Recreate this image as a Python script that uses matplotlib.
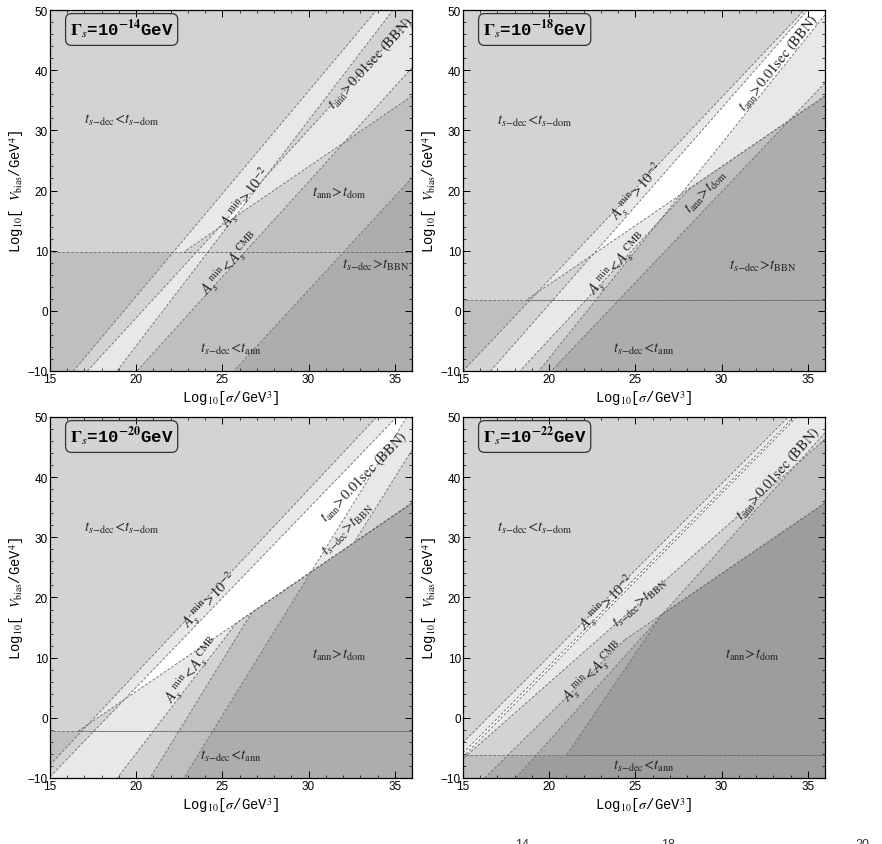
import numpy as np
import matplotlib.pyplot as plt

plt.rcParams['mathtext.fontset'] = 'stix'
plt.rcParams['font.family'] = ['Liberation Sans', 'DejaVu Sans']

XLIM = (15, 36)
YLIM = (-10, 50)

# decay rates of the four panels, log10(Gamma_s / GeV)
gamma_exp = [-14, -18, -20, -22]
# horizontal boundary (t_s-dec = t_ann) in each panel
h_level = [9.8, 1.8, -2.2, -6.2]
# slope-2 boundary t_ann = t_dom, same in every panel
t_dom = (15.0, -5.4, 36.0, 35.7)

# boundaries, (x0, y0, x1, y1) in data units
lines_1 = {'Pa': (16.36, -10, 33.95, 50), 'Pb': (17.17, -10, 36.0, 48.8),
           'Pc': (18.88, -10, 34.9, 50), 'Alo': (20.04, -10, 36.0, 40.4),
           'S': (25.67, -10, 36.0, 22.1)}
lines_2 = {'Pa': (15.0, -10, 34.8, 50), 'Pb': (16.6, -10, 35.0, 50),
           'Pc': (19.4, -10, 36.0, 49.2), 'Alo': (18.3, -10, 36.0, 44.5),
           'S': (20.13, -10, 36.0, 37.9)}
lines_3 = {'Pa': (14.29, -10, 33.95, 50), 'Pb': (14.93, -10, 35.11, 50),
           'Pc': (22.76, -10, 35.7, 50), 'Alo': (18.9, -10, 35.0, 50),
           'S': (20.8, -10, 26.6, 17.0), 'S2': (24.07, -10, 36.0, 44.5)}
lines_4 = {'U': (15.0, -4.1, 33.87, 50), 'D1': (15.3, -5.0, 34.2, 50),
           'D2': (15.4, -5.3, 34.35, 50), 'Lb': (15.0, -6.8, 36.0, 46.3),
           'Alo': (16.26, -10, 36.0, 45.8), 'S': (20.1, -10, 26.5, 17.0),
           'E': (26.5, 17.0, 36.0, 47.4)}

# excluded regions: each is an intersection of half planes (a = above, b = below)
regions_1 = [[('Pa', 'a')], [('Pb', 'a')], [('Pc', 'b')], [('Alo', 'b')],
             [('S', 'b')], [('T', 'b'), ('H', 'a')], [('H', 'b')]]
regions_2 = [[('Pa', 'a')], [('Pb', 'a')], [('Pc', 'b')], [('Alo', 'b'), ('T', 'b')],
             [('S', 'b')], [('T', 'b'), ('H', 'a')], [('H', 'b')]]
regions_3 = [[('Pa', 'a')], [('Pb', 'a')], [('Pc', 'b')], [('Alo', 'b'), ('T', 'b')],
             [('S', 'b'), ('T', 'b')], [('S2', 'b'), ('T', 'a')],
             [('T', 'b'), ('H', 'a')], [('H', 'b')]]
regions_4 = [[('U', 'a')], [('D1', 'a')], [('D2', 'b')], [('Lb', 'b')],
             [('Alo', 'b'), ('T', 'b')], [('S', 'b'), ('T', 'b'), ('H', 'a')],
             [('E', 'b')], [('H', 'b')]]

lab_dec_dom = r'$t_{s\mathrm{-dec}}\!<\!t_{s\mathrm{-dom}}$'
lab_ann_dom = r'$t_{\mathrm{ann}}\!>\!t_{\mathrm{dom}}$'
lab_dec_bbn = r'$t_{s\mathrm{-dec}}\!>\!t_{\mathrm{BBN}}$'
lab_dec_ann = r'$t_{s\mathrm{-dec}}\!<\!t_{\mathrm{ann}}$'
lab_amin = r'$A_s^{\ \mathrm{min}}\!>\!10^{-2}$'
lab_cmb = r'$A_s^{\ \mathrm{min}}\!<\!A_s^{\ \mathrm{CMB}}$'
lab_bbn = r'$t_{\mathrm{ann}}\!>\!0.01\mathrm{sec\ (BBN)}$'

# (text, x, y, line the text runs along or None)
labels_1 = [(lab_dec_dom, 19.2, 31.8, None), (lab_ann_dom, 31.8, 19.7, None),
            (lab_dec_bbn, 33.9, 7.7, None), (lab_dec_ann, 25.5, -6.2, None),
            (lab_amin, 26.4, 19.0, 'Pc'), (lab_cmb, 25.5, 7.9, 'Alo'),
            (lab_bbn, 33.6, 41.3, 'Pb')]
labels_2 = [(lab_dec_dom, 19.2, 31.7, None), (lab_dec_bbn, 32.4, 7.6, None),
            (lab_dec_ann, 25.5, -6.2, None), (lab_ann_dom, 29.1, 19.9, 'S'),
            (lab_amin, 25.1, 19.9, 'Pb'), (lab_cmb, 24.0, 7.9, 'Alo'),
            (lab_bbn, 33.3, 41.3, 'Pc')]
labels_3 = [(lab_dec_dom, 19.2, 31.6, None), (lab_ann_dom, 31.8, 10.6, None),
            (lab_dec_ann, 25.5, -6.2, None), (lab_amin, 24.3, 19.7, 'Pb'),
            (lab_cmb, 23.3, 8.1, 'Alo'), (lab_bbn, 33.2, 40.2, 'Pb'),
            (lab_dec_bbn, 32.3, 31.4, 'Pb')]
labels_4 = [(lab_dec_dom, 19.2, 31.6, None), (lab_ann_dom, 31.8, 10.6, None),
            (lab_dec_ann, 25.5, -7.9, None), (lab_amin, 23.4, 19.2, 'U'),
            (lab_dec_bbn, 25.3, 19.2, 'Lb'), (lab_cmb, 22.6, 7.8, 'Alo'),
            (lab_bbn, 33.3, 40.8, 'E')]

panel_lines = [lines_1, lines_2, lines_3, lines_4]
panel_regions = [regions_1, regions_2, regions_3, regions_4]
panel_labels = [labels_1, labels_2, labels_3, labels_4]


def clip(poly, line, side):
    """Sutherland-Hodgman clip of a polygon by one half plane."""
    x0, y0, x1, y1 = line
    sgn = 1.0 if side == 'a' else -1.0

    def f(p):
        return sgn * ((x1 - x0) * (p[1] - y0) - (y1 - y0) * (p[0] - x0))

    out = []
    n = len(poly)
    for i in range(n):
        p, q = poly[i], poly[(i + 1) % n]
        fp, fq = f(p), f(q)
        if fp >= 0:
            out.append(p)
        if (fp >= 0) != (fq >= 0):
            t = fp / (fp - fq)
            out.append((p[0] + t * (q[0] - p[0]), p[1] + t * (q[1] - p[1])))
    return out


def on_frame(p, q):
    eps = 1e-6
    for k, lim in ((0, XLIM[0]), (0, XLIM[1]), (1, YLIM[0]), (1, YLIM[1])):
        if abs(p[k] - lim) < eps and abs(q[k] - lim) < eps:
            return True
    return False


fig = plt.figure(figsize=(8.82, 8.45), dpi=100)
W, H = 882.0, 845.0
boxes = [(50, 11), (463, 11), (50, 418), (463, 418)]

for i in range(4):
    bx, by = boxes[i]
    ax = fig.add_axes([bx / W, 1 - (by + 361) / H, 362 / W, 361 / H])
    ax.set_xlim(*XLIM)
    ax.set_ylim(*YLIM)

    lines = dict(panel_lines[i])
    lines['T'] = t_dom
    lines['H'] = (XLIM[0], h_level[i], XLIM[1], h_level[i])

    frame = [(XLIM[0], YLIM[0]), (XLIM[1], YLIM[0]), (XLIM[1], YLIM[1]), (XLIM[0], YLIM[1])]
    for reg in panel_regions[i]:
        poly = frame
        for name, side in reg:
            poly = clip(poly, lines[name], side)
            if len(poly) < 3:
                break
        if len(poly) < 3:
            continue
        px = [p[0] for p in poly]
        py = [p[1] for p in poly]
        ax.fill(px, py, color='black', alpha=0.09, lw=0)
        for k in range(len(poly)):
            p, q = poly[k], poly[(k + 1) % len(poly)]
            if not on_frame(p, q):
                ax.plot([p[0], q[0]], [p[1], q[1]], color='#707070', lw=0.65,
                        dashes=(3, 2))

    for txt, x, y, along in panel_labels[i]:
        rot = 0
        if along is not None:
            x0, y0, x1, y1 = lines[along]
            a = ax.transData.transform((x0, y0))
            b = ax.transData.transform((x1, y1))
            rot = np.degrees(np.arctan2(b[1] - a[1], b[0] - a[0]))
        ax.text(x, y, txt, fontsize=10.5, rotation=rot, ha='center', va='center',
                rotation_mode='anchor', color='#222222')

    ax.text(0.055, 0.946, r'$\mathbf{\Gamma}_{\mathit{s}}$=10$^{\mathbf{%d}}$GeV' % gamma_exp[i],
            transform=ax.transAxes, fontsize=12.5, fontweight='bold',
            family='Liberation Mono', ha='left', va='center',
            bbox=dict(boxstyle='round,pad=0.25,rounding_size=0.35', fc='none',
                      ec='#333333', lw=0.9))

    ax.set_xticks([15, 20, 25, 30, 35])
    ax.set_yticks([-10, 0, 10, 20, 30, 40, 50])
    ax.set_xticks(np.arange(15, 37, 1), minor=True)
    ax.set_yticks(np.arange(-10, 51, 2), minor=True)
    ax.tick_params(which='both', direction='in', top=True, right=True,
                   labelsize=8.5, pad=1.5)
    ax.tick_params(which='major', length=5, width=0.7)
    ax.tick_params(which='minor', length=2.5, width=0.5)
    for sp in ax.spines.values():
        sp.set_linewidth(0.9)

    ax.set_xlabel(r'Log$_{10}$[$\sigma$/GeV$^3$]', family='Liberation Mono',
                  fontsize=10, labelpad=2)
    ax.set_ylabel(r'Log$_{10}$[ $V_{\mathrm{bias}}$/GeV$^4$]', family='Liberation Mono',
                  fontsize=10, labelpad=1)

# cut off caption digits at the very bottom
for txt, xp in (('14', 522), ('18', 668), ('20', 862)):
    fig.text(xp / W, 0.0, txt, fontsize=9, ha='center', va='center', color='#333333')

fig.savefig('out.png', dpi=100)
